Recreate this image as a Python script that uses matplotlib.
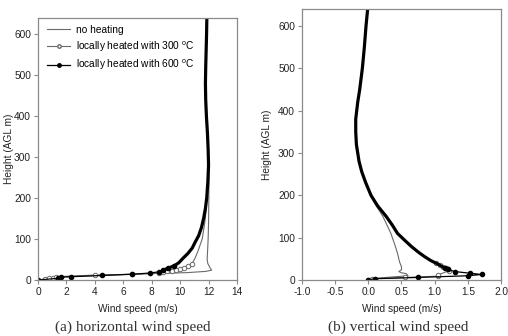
import matplotlib
matplotlib.use('Agg')
import matplotlib.pyplot as plt
from matplotlib.lines import Line2D

plt.rcParams['font.family'] = ['Liberation Sans', 'DejaVu Sans']
plt.rcParams['mathtext.fontset'] = 'custom'
plt.rcParams['mathtext.rm'] = 'Liberation Sans'

# (a) horizontal wind speed, height (m) and speed (m/s)
h_a_600 = [0, 4, 7, 8, 11, 14, 17, 20, 24, 29, 35, 42, 53, 65, 78, 92, 108, 128, 150,
           175, 200, 240, 280, 320, 360, 400, 440, 480, 520, 560, 600, 640]
u_a_600 = [0, 1.4, 1.6, 2.3, 4.5, 6.6, 7.9, 8.5, 8.8, 9.17, 9.6, 9.9, 10.2, 10.55, 10.85,
           11.05, 11.3, 11.5, 11.65, 11.78, 11.87, 11.95, 12.0, 11.97, 11.92, 11.85, 11.8,
           11.78, 11.8, 11.83, 11.86, 11.88]
h_a_300 = [0, 2, 4, 6, 8, 12, 14, 17, 19, 21, 23, 25, 27, 30, 33, 38, 53, 70, 85, 100, 117,
           137, 160, 200, 240, 280, 320, 360, 400, 440, 480, 520, 560, 600, 640]
u_a_300 = [0, 0.5, 0.8, 1.05, 1.3, 4.0, 6.6, 8.5, 8.8, 9.1, 9.4, 9.7, 10.0, 10.3, 10.55,
           10.8, 11.05, 11.25, 11.4, 11.55, 11.63, 11.72, 11.8, 11.88, 11.95, 12.0, 11.97,
           11.92, 11.85, 11.8, 11.78, 11.8, 11.83, 11.86, 11.88]
h_a_no = [0, 2, 4, 7, 11, 14, 16, 18, 21, 24, 30, 40, 50, 70, 100, 140, 200, 240, 280, 320,
          360, 400, 440, 480, 520, 560, 600, 640]
u_a_no = [0, 0.4, 1.0, 1.5, 4.0, 6.6, 8.5, 10.5, 11.8, 12.22, 12.1, 11.95, 11.9, 11.93,
          11.97, 12.0, 12.02, 12.03, 12.02, 11.97, 11.92, 11.85, 11.8, 11.78, 11.8, 11.83,
          11.86, 11.88]

# (b) vertical wind speed
h_b_600 = [0, 3, 6, 10, 13, 16, 20, 25, 28, 33, 39, 46, 55, 65, 79, 95, 110, 130, 150, 175,
           200, 230, 256, 280, 300, 320, 350, 380, 400, 420, 450, 500, 550, 600, 640]
w_b_600 = [0, 0.1, 0.75, 1.5, 1.71, 1.53, 1.3, 1.2, 1.15, 1.1, 1.03, 0.94, 0.85, 0.76, 0.65,
           0.54, 0.44, 0.36, 0.27, 0.14, 0.04, -0.04, -0.1, -0.14, -0.16, -0.18, -0.19,
           -0.19, -0.175, -0.16, -0.13, -0.09, -0.06, -0.035, -0.01]
h_b_300 = [0, 3, 6, 9, 12, 22, 25, 28, 31, 35, 40, 46, 55, 65, 79, 95, 110, 130, 150, 175,
           200, 230, 256, 280, 300, 320, 350, 380, 400, 420, 450, 500, 550, 600, 640]
w_b_300 = [0, 0.05, 0.55, 1.05, 1.05, 1.22, 1.2, 1.17, 1.13, 1.08, 1.02, 0.94, 0.85, 0.76,
           0.65, 0.54, 0.44, 0.36, 0.27, 0.14, 0.04, -0.04, -0.1, -0.14, -0.16, -0.18,
           -0.19, -0.19, -0.175, -0.16, -0.13, -0.09, -0.06, -0.035, -0.01]
h_b_no = [0, 4, 10, 15, 17, 20, 24, 31, 43, 63, 83, 110, 130, 150, 175, 200, 230, 256, 280,
          300, 320, 350, 380, 400, 420, 450, 500, 550, 600, 640]
w_b_no = [0, 0.1, 0.6, 0.57, 0.5, 0.46, 0.5, 0.5, 0.47, 0.44, 0.4, 0.34, 0.28, 0.22, 0.12,
          0.03, -0.04, -0.1, -0.14, -0.16, -0.18, -0.19, -0.19, -0.175, -0.16, -0.13,
          -0.09, -0.06, -0.035, -0.01]

labels = ['no heating', 'locally heated with 300 $^{\\rm o}$C',
          'locally heated with 600 $^{\\rm o}$C']
gray = '#6a6a6a'
spine = '#8a8a8a'

fig = plt.figure(figsize=(5.08, 3.36), dpi=100)
ax1 = fig.add_axes([0.0748, 0.1667, 0.3917, 0.7797])
ax2 = fig.add_axes([0.5945, 0.1667, 0.3917, 0.8065])


def draw(ax, h_no, u_no, h3, u3, h6, u6, mk3, mk6, thick_from):
    ax.plot(u_no, h_no, color=gray, lw=0.8)
    idx3 = [i for i, v in enumerate(h3) if v <= mk3]
    ax.plot(u3, h3, color=gray, lw=0.8, marker='o', ms=3.2, mfc='white', mec=gray,
            mew=0.7, markevery=idx3)
    idx6 = [i for i, v in enumerate(h6) if v <= mk6]
    ax.plot(u6, h6, color='black', lw=0.9, marker='o', ms=3, mfc='black', mec='black',
            markevery=idx6)
    top = [i for i, v in enumerate(h6) if v >= thick_from]
    ax.plot([u6[i] for i in top], [h6[i] for i in top], color='black', lw=2.3,
            solid_capstyle='round')


draw(ax1, h_a_no, u_a_no, h_a_300, u_a_300, h_a_600, u_a_600, 40, 36, 24)
draw(ax2, h_b_no, w_b_no, h_b_300, w_b_300, h_b_600, w_b_600, 40, 28, 25)

ax1.set_xlim(0, 14)
ax1.set_xticks(range(0, 15, 2))
ax2.set_xlim(-1.0, 2.0)
ax2.set_xticks([-1.0, -0.5, 0.0, 0.5, 1.0, 1.5, 2.0])
ax2.set_xticklabels(['-1.0', '-0.5', '0.0', '0.5', '1.0', '1.5', '2.0'])

for ax in (ax1, ax2):
    ax.set_ylim(0, 640)
    ax.set_yticks(range(0, 700, 100))
    for s in ax.spines.values():
        s.set_color(spine)
        s.set_linewidth(0.9)
    ax.tick_params(direction='out', length=3, width=0.8, color=spine,
                   labelsize=7.3, labelcolor='#222222', pad=2)
    ax.set_xlabel('Wind speed (m/s)', fontsize=7.3, color='#222222', labelpad=5)
    ax.set_ylabel('Height (AGL m)', fontsize=7.3, color='#222222')

ax1.yaxis.set_label_coords(-0.12, 0.5)
ax2.yaxis.set_label_coords(-0.15, 0.5)

handles = [Line2D([], [], color=gray, lw=0.8),
           Line2D([], [], color=gray, lw=0.8, marker='o', ms=2.5, mfc='white', mec=gray),
           Line2D([], [], color='black', lw=0.9, marker='o', ms=2.5, mfc='black')]
ax1.legend(handles, labels, loc='upper left', bbox_to_anchor=(0.045, 0.975),
           frameon=False, fontsize=7.3, handlelength=2.3, handletextpad=0.6,
           labelspacing=0.45, borderpad=0, borderaxespad=0)

fig.text(0.262, 0.027, '(a) horizontal wind speed', family='Liberation Serif',
         fontsize=11, color='#333333', ha='center', va='center')
fig.text(0.783, 0.027, '(b) vertical wind speed', family='Liberation Serif',
         fontsize=11, color='#333333', ha='center', va='center')

fig.savefig('out.png', dpi=100)
